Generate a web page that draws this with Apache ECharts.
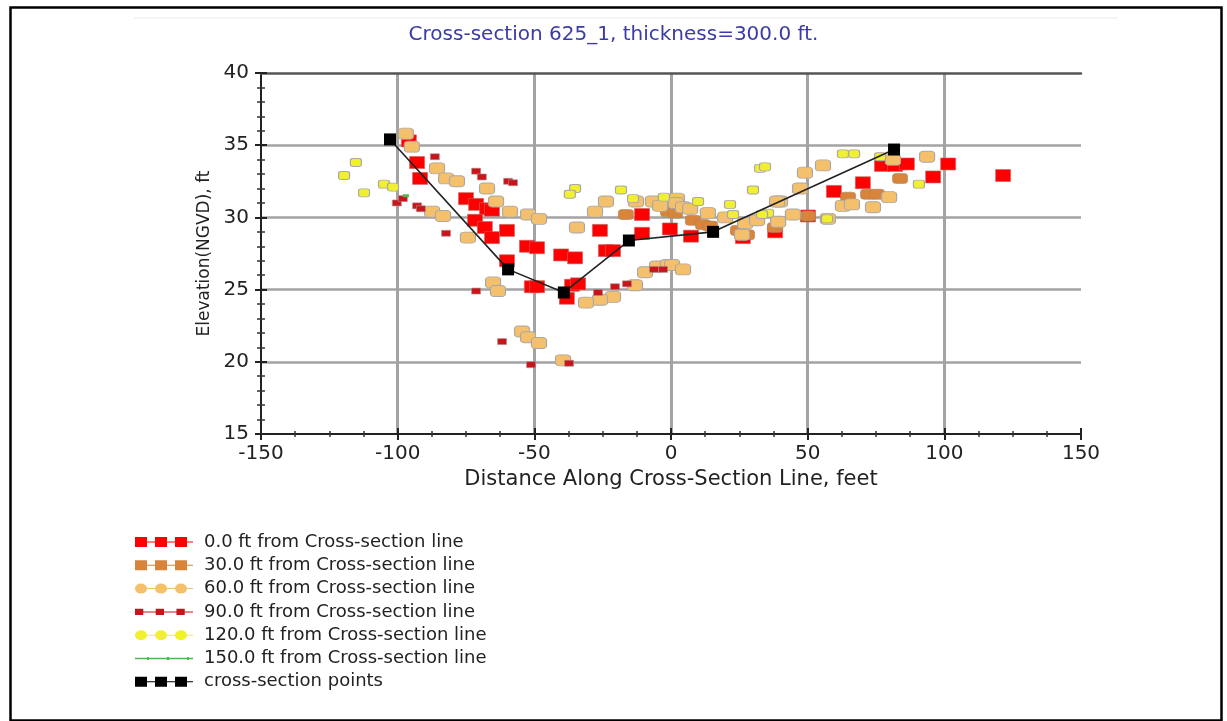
<!DOCTYPE html>
<html>
<head>
<meta charset="utf-8">
<script src="https://cdn.jsdelivr.net/npm/echarts@6/dist/echarts.min.js"></script>
<style>
  html, body { margin: 0; padding: 0; background: #fff; }
  #chart { width: 1227px; height: 721px; }
</style>
</head>
<body>
<div id="chart"></div>
<script>
"use strict";

// points: [distance ft, elevation ft]
var ft0 = [[-95.9,35.3],[-92.9,33.8],[-91.8,32.7],[-75.0,31.3],[-71.3,30.9],[-67.3,30.6],[-65.5,30.5],
  [-71.7,29.8],[-68.1,29.3],[-65.5,28.6],[-60.0,29.1],[-60.0,27.0],[-52.7,28.0],[-49.0,27.9],[-50.9,25.2],
  [-49.0,25.2],[-40.2,27.4],[-35.1,27.2],[-38.1,24.4],[-36.2,25.3],[-34.0,25.4],[-26.0,29.1],[-23.8,27.7],
  [-21.2,27.7],[-10.6,30.2],[-10.6,28.9],[-0.4,29.2],[7.3,28.7],[26.3,28.6],[38.1,29.0],[50.1,30.1],
  [59.6,31.8],[70.2,32.4],[77.2,33.6],[82.0,33.6],[86.3,33.7],[95.9,32.8],[101.4,33.7],[121.5,32.9]];
var ft30 = [[-16.5,30.2],[-1.1,30.4],[1.5,30.3],[8.0,29.8],[11.7,29.5],[14.3,29.4],[24.5,29.1],[27.8,28.8],
  [38.0,29.3],[50.1,30.1],[64.8,31.4],[72.1,31.6],[75.4,31.6],[83.8,32.7]];
var ft60 = [[-97.0,35.8],[-94.8,34.9],[-85.6,33.4],[-82.3,32.7],[-78.3,32.5],[-67.3,32.0],[-64.0,31.1],
  [-87.4,30.4],[-83.4,30.1],[-74.3,28.6],[-65.1,25.5],[-63.3,24.9],[-58.9,30.4],[-52.3,30.2],[-48.3,29.9],
  [-34.4,29.3],[-27.8,30.4],[-23.8,31.1],[-12.8,31.1],[-6.6,31.1],[-4.0,30.8],[2.2,31.3],[-9.5,26.2],
  [-5.1,26.6],[-1.1,26.7],[-13.2,25.3],[-21.2,24.5],[-26.0,24.3],[-31.1,24.1],[-54.5,22.1],[-52.3,21.7],
  [-48.3,21.3],[-39.5,20.1],[1.8,31.0],[4.4,30.7],[7.0,30.6],[13.5,30.3],[19.8,30.0],[27.1,29.6],
  [31.5,29.8],[39.2,29.7],[39.9,31.1],[47.2,32.0],[49.0,33.1],[55.6,33.6],[44.6,30.2],[57.4,29.9],
  [0.4,26.7],[4.4,26.4],[26.0,28.8],[62.9,30.8],[66.2,30.9],[73.9,30.7],[79.8,31.4],[81.2,34.0],
  [93.7,34.2],[38.8,31.1]];
var ft90 = [[-86.4,34.2],[-71.3,33.2],[-69.2,32.8],[-100.3,31.0],[-98.1,31.3],[-92.9,30.8],[-91.5,30.6],
  [-82.3,28.9],[-71.3,24.9],[-61.8,21.4],[-59.6,32.5],[-57.8,32.4],[-20.5,25.2],[-16.1,25.4],[-26.7,24.8],
  [-6.2,26.4],[-2.9,26.4],[-51.2,19.8],[-37.3,19.9]];
var ft120 = [[-115.3,33.8],[-119.6,32.9],[-105.0,32.3],[-101.7,32.1],[-112.3,31.7],[-35.1,32.0],[-37.0,31.6],
  [-18.3,31.9],[-13.9,31.3],[-2.6,31.4],[9.9,31.1],[21.6,30.9],[22.7,30.2],[32.6,33.4],[34.4,33.5],
  [30.0,31.9],[35.5,30.3],[33.3,30.2],[57.1,29.9],[62.9,34.4],[67.0,34.4],[90.7,32.3],[76.5,34.2]];
var ft150 = [[-97.0,31.5]];
var sectionPts = [[-102.8,35.4],[-59.6,26.4],[-39.2,24.8],[-15.4,28.4],[15.4,29.0],[81.6,34.7]];

var seriesNames = ["0.0 ft from Cross-section line", "30.0 ft from Cross-section line",
  "60.0 ft from Cross-section line", "90.0 ft from Cross-section line",
  "120.0 ft from Cross-section line", "150.0 ft from Cross-section line", "cross-section points"];

var FONT = "DejaVu Sans, Verdana, sans-serif";

// legend icons: three markers joined by a thin line
var iconSquares = "path://M0 0h12v10H0z M12 4.5h8v1h-8z M20 0h12v10H20z M32 4.5h8v1h-8z M40 0h12v10H40z M52 4.5h6v1h-6z";
var iconSmall = "path://M2 2h8v6H2z M10 4.5h12v1H10z M22 2h8v6h-8z M30 4.5h12v1H30z M42 2h8v6h-8z M50 4.5h8v1h-8z";
var iconRound = "path://M0 5a6 5 0 1 0 12 0a6 5 0 1 0 -12 0z M12 4.5h8v1h-8z M20 5a6 5 0 1 0 12 0a6 5 0 1 0 -12 0z M32 4.5h8v1h-8z M40 5a6 5 0 1 0 12 0a6 5 0 1 0 -12 0z M52 4.5h6v1h-6z";
var iconThin = "path://M0 4.3h58v1.4H0z M12 3.6h2v2.8h-2z M32 3.6h2v2.8h-2z M52 3.6h2v2.8h-2z";

function initChart() {
  var myChart = echarts.init(document.getElementById("chart"));
  var tickAxis = function (extra) {
    return Object.assign({
      type: "value", min: -150, max: 150, interval: 50,
      axisLabel: { show: false }, splitLine: { show: false },
      axisLine: { show: false, onZero: false }, axisTick: { show: false }
    }, extra);
  };
  var option = {
    backgroundColor: "#fff",
    animation: false,
    title: {
      text: "Cross-section 625_1, thickness=300.0 ft.",
      left: "center", top: 20,
      textStyle: { color: "#3b3ba6", fontFamily: FONT, fontSize: 20, fontWeight: "normal" }
    },
    grid: { left: 261, right: 146, top: 73, bottom: 287 },
    legend: {
      orient: "vertical", left: 130, top: 528,
      itemWidth: 58, itemHeight: 10, itemGap: 5.3,
      textStyle: { fontFamily: FONT, fontSize: 18, color: "#222", padding: [0, 0, 0, 6] },
      data: [
        { name: seriesNames[0], icon: iconSquares, itemStyle: { color: "#ff0000", borderWidth: 0 } },
        { name: seriesNames[1], icon: iconSquares, itemStyle: { color: "#d8843a", borderWidth: 0 } },
        { name: seriesNames[2], icon: iconRound, itemStyle: { color: "#f5c06c", borderWidth: 0 } },
        { name: seriesNames[3], icon: iconSmall, itemStyle: { color: "#c8141a", borderWidth: 0 } },
        { name: seriesNames[4], icon: iconRound, itemStyle: { color: "#f0f030", borderWidth: 0 } },
        { name: seriesNames[5], icon: iconThin, itemStyle: { color: "#4fb84f", borderWidth: 0 } },
        { name: seriesNames[6], icon: iconSquares, itemStyle: { color: "#000", borderWidth: 0 } }
      ]
    },
    xAxis: [
      {
        type: "value", min: -150, max: 150, interval: 50,
        name: "Distance Along Cross-Section Line, feet",
        nameLocation: "middle", nameGap: 35,
        nameTextStyle: { fontFamily: FONT, fontSize: 21, color: "#222" },
        axisLine: { onZero: false, lineStyle: { color: "#222", width: 2 } },
        axisTick: { inside: false, length: 6, lineStyle: { color: "#222", width: 2 } },
        minorTick: { show: true, splitNumber: 4, length: 3, lineStyle: { color: "#333", width: 1.5 } },
        axisLabel: { fontFamily: FONT, fontSize: 20, color: "#222", margin: 10 },
        splitLine: { show: true, showMinLine: false, showMaxLine: false, lineStyle: { color: "#a3a3a3", width: 3 } }
      },
      tickAxis({ position: "bottom", axisTick: { show: true, inside: true, length: 6, lineStyle: { color: "#222", width: 2 } },
        minorTick: { show: true, splitNumber: 4, length: 3, lineStyle: { color: "#333", width: 1.5 } } }),
      tickAxis({ position: "top", axisLine: { show: true, onZero: false, lineStyle: { color: "#555", width: 2.5 } } })
    ],
    yAxis: [
      {
        type: "value", min: 15, max: 40, interval: 5,
        name: "Elevation(NGVD), ft",
        nameLocation: "middle", nameGap: 47, nameRotate: 90,
        nameTextStyle: { fontFamily: FONT, fontSize: 17, color: "#222" },
        axisLine: { onZero: false, lineStyle: { color: "#222", width: 2 } },
        axisTick: { inside: false, length: 6, lineStyle: { color: "#222", width: 2 } },
        minorTick: { show: true, splitNumber: 5, length: 4, lineStyle: { color: "#333", width: 1.5 } },
        axisLabel: { fontFamily: FONT, fontSize: 20, color: "#222", margin: 12 },
        splitLine: { show: true, showMinLine: false, showMaxLine: false, lineStyle: { color: "#a3a3a3", width: 2.5 } }
      },
      {
        type: "value", min: 15, max: 40, interval: 5, position: "left",
        axisLabel: { show: false }, splitLine: { show: false }, axisLine: { show: false, onZero: false },
        axisTick: { show: true, inside: true, length: 6, lineStyle: { color: "#222", width: 2 } },
        minorTick: { show: true, splitNumber: 5, length: 4, lineStyle: { color: "#333", width: 1.5 } }
      }
    ],
    series: [
      { name: seriesNames[0], type: "scatter", data: ft0, symbol: "rect", symbolSize: [15, 12],
        itemStyle: { color: "#ff0000", borderColor: "#c86060", borderWidth: 0.6, opacity: 1 } },
      { name: seriesNames[1], type: "scatter", data: ft30, symbol: "roundRect", symbolSize: [15, 10],
        itemStyle: { color: "#d8843a", borderColor: "#b08060", borderWidth: 0.6, opacity: 1 } },
      { name: seriesNames[2], type: "scatter", data: ft60, symbol: "roundRect", symbolSize: [15, 11],
        itemStyle: { color: "#f5c06c", borderColor: "#a8a8a8", borderWidth: 1, opacity: 1 } },
      { name: seriesNames[3], type: "scatter", data: ft90, symbol: "rect", symbolSize: [9, 6],
        itemStyle: { color: "#c8141a", borderColor: "#b09090", borderWidth: 0.6, opacity: 1 } },
      { name: seriesNames[4], type: "scatter", data: ft120, symbol: "roundRect", symbolSize: [11, 8],
        itemStyle: { color: "#f0f030", borderColor: "#a8a8a8", borderWidth: 1, opacity: 1 } },
      { name: seriesNames[5], type: "scatter", data: ft150, symbol: "rect", symbolSize: [6, 3],
        itemStyle: { color: "#4fb84f", opacity: 1 } },
      { name: seriesNames[6], type: "line", data: sectionPts, symbol: "rect", symbolSize: 12,
        showAllSymbol: true, z: 5,
        lineStyle: { color: "#222", width: 1.6 },
        itemStyle: { color: "#000", borderWidth: 0 } }
    ],
    graphic: [
      { type: "rect", left: 8, top: 5, shape: { width: 1211, height: 713 }, z: 100,
        style: { fill: "none", stroke: "#000", lineWidth: 2.5 } },
      { type: "line", shape: { x1: 134, y1: 18, x2: 1118, y2: 18 },
        style: { stroke: "#ececec", lineWidth: 1 } }
    ]
  };
  myChart.setOption(option);
  window.onresize = function () {
    myChart.resize();
  };
  return myChart;
}

initChart();
</script>
</body>
</html>
